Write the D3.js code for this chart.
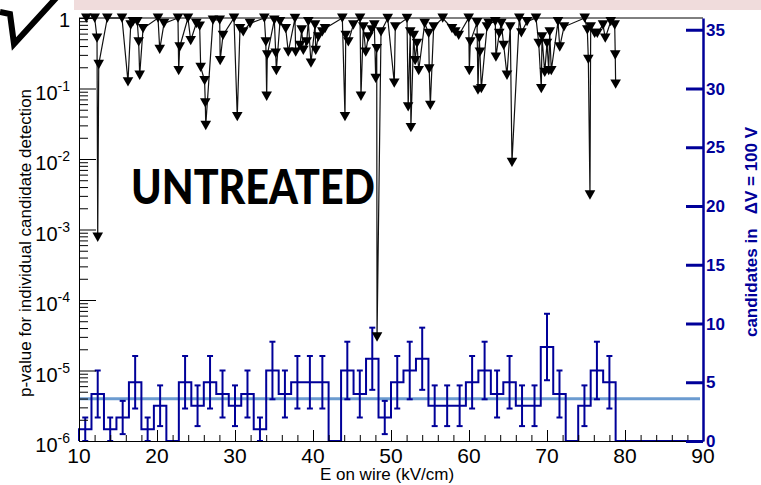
<!DOCTYPE html>
<html>
<head>
<meta charset="utf-8">
<script src="https://cdn.jsdelivr.net/npm/d3@7"></script>
<style>
  html, body { margin: 0; padding: 0; background: #fff; }
  svg { display: block; }
  text { font-family: "Liberation Sans", Arial, Helvetica, sans-serif; }
</style>
</head>
<body>
<svg id="chart" width="761" height="485"></svg>
<script>
// ---- data -------------------------------------------------------------
// candidate positions (E on wire, kV/cm) and their individual p-values
const eField = [
  10.94, 12.01, 12.31, 12.40, 12.53, 13.63, 15.51, 16.28, 16.63, 16.92,
  17.47, 17.65, 17.78, 18.21, 20.13, 20.35, 20.90, 22.69, 22.78, 22.91,
  23.97, 24.32, 25.04, 25.47, 25.60, 26.10, 26.19, 26.25, 27.18, 28.04,
  28.10, 28.46, 29.87, 30.29, 30.64, 31.06, 31.92, 33.76, 33.95, 34.06,
  34.14, 35.04, 35.22, 35.30, 35.77, 36.50, 36.83, 37.69, 37.78, 38.33,
  38.55, 38.76, 39.19, 39.40, 39.74, 40.26, 40.35, 40.68, 41.19, 41.54,
  43.76, 44.10, 44.20, 44.53, 45.17, 46.03, 46.15, 46.45, 46.76, 47.09,
  47.53, 47.86, 48.04, 48.17, 48.21, 48.72, 49.58, 50.42, 50.55, 52.05,
  52.20, 52.47, 52.55, 52.91, 53.10, 53.33, 53.55, 54.32, 54.83, 54.90,
  55.04, 55.47, 56.63, 57.82, 58.24, 58.68, 59.96, 60.04, 60.17, 61.03,
  61.15, 61.32, 61.40, 61.58, 62.31, 62.53, 63.37, 63.45, 63.88, 64.14,
  64.45, 64.87, 65.29, 65.51, 66.45, 66.71, 67.44, 68.59, 68.94, 69.27,
  69.36, 69.71, 70.00, 70.22, 70.35, 70.55, 71.41, 71.63, 72.18, 74.83,
  75.17, 75.30, 75.51, 75.60, 76.11, 76.45, 77.18, 77.47, 78.17, 78.68,
  78.75, 78.80
];
const pValue = [
  1.0, 1.0, 0.52, 7.8e-4, 0.22, 1.0, 1.0, 0.125, 0.80, 0.89,
  0.89, 0.46, 0.155, 0.71, 1.0, 0.36, 0.84, 1.0, 0.18, 0.39,
  1.0, 0.48, 0.84, 0.77, 0.20, 0.13, 0.063, 0.030, 0.94, 0.94,
  0.25, 0.57, 1.0, 0.040, 0.71, 0.64, 0.84, 1.0, 0.46, 0.078,
  0.30, 0.94, 0.32, 0.18, 0.89, 0.71, 0.33, 0.99, 0.33, 0.41,
  0.68, 0.35, 0.46, 0.89, 0.23, 0.80, 0.35, 0.54, 0.64, 0.71,
  1.0, 0.040, 0.57, 0.46, 0.80, 1.0, 0.078, 0.75, 0.33, 0.54,
  0.68, 0.80, 0.14, 0.37, 3.0e-5, 0.64, 0.99, 0.12, 0.75, 0.99,
  0.055, 0.64, 0.028, 0.57, 0.25, 0.44, 0.18, 0.84, 0.61, 0.19,
  0.058, 0.75, 1.0, 0.71, 0.64, 0.57, 1.0, 0.18, 0.46, 0.86,
  0.095, 0.52, 0.33, 0.10, 0.75, 0.84, 0.89, 0.28, 0.61, 0.84,
  0.41, 0.155, 0.75, 9.0e-3, 1.0, 0.62, 0.89, 1.0, 0.44, 0.10,
  0.54, 0.17, 0.44, 0.18, 0.64, 0.18, 0.89, 0.39, 0.75, 1.0,
  0.68, 0.26, 3.1e-3, 0.75, 0.61, 0.61, 0.80, 0.52, 0.89, 0.80,
  0.30, 0.116
];

// candidates per 100 V step (bins of 1.6 kV/cm starting at 10 kV/cm)
const binStart = 10;
const binWidth = 1.6;
const binCounts = [
  1, 4, 1, 2, 5, 1, 3, 0, 5, 3,
  5, 4, 3, 4, 1, 6, 4, 5, 5, 5,
  0, 6, 4, 7, 2, 5, 6, 7, 3, 3,
  3, 5, 6, 4, 5, 3, 3, 8, 4, 0,
  3, 6, 5, 0, 0, 0, 0, 0, 0, 0
];
const meanCount = 3.6;

// axis ticks
const xMajorTicks = [10, 20, 30, 40, 50, 60, 70, 80, 90];
const pDecades = [0, -1, -2, -3, -4, -5, -6];
const countTicks = [0, 5, 10, 15, 20, 25, 30, 35];

// ---- layout -----------------------------------------------------------
const svg = d3.select("#chart");
const L = 79, R = 703, T = 18, B = 441;
const navy = "#000099";

const x = d3.scaleLinear().domain([10, 90]).range([L, R]);
const y = d3.scaleLog().domain([1e-6, 1]).range([B, T]);
const yR = d3.scaleLinear().domain([0, 36]).range([B, T]);

// header band and corner mark
svg.append("rect").attr("x", 74).attr("y", 0).attr("width", 687).attr("height", 10)
  .attr("fill", "#f0dcdc");
svg.append("path").attr("d", "M0,12 L10,14 L14,44 L57,-3")
  .attr("fill", "none").attr("stroke", "#000").attr("stroke-width", 6)
  .attr("stroke-linejoin", "miter");

// mean count level
svg.append("line")
  .attr("x1", L).attr("x2", R - 3)
  .attr("y1", yR(meanCount)).attr("y2", yR(meanCount))
  .attr("stroke", "#6b9bd0").attr("stroke-width", 3);

// histogram outline
const bins = binCounts.map((c, i) => ({
  x0: binStart + i * binWidth,
  x1: binStart + (i + 1) * binWidth,
  c
}));
let d = `M${x(bins[0].x0)},${yR(0)}`;
bins.forEach(b => { d += `L${x(b.x0)},${yR(b.c)}L${x(b.x1)},${yR(b.c)}`; });
d += `L${x(bins[bins.length - 1].x1)},${yR(0)}`;
svg.append("path").attr("d", d).attr("fill", "none")
  .attr("stroke", navy).attr("stroke-width", 2).attr("stroke-linejoin", "miter");

// Poisson error bars
const capHalf = 3;
const eb = svg.append("g").attr("stroke", navy).attr("stroke-width", 2);
bins.filter(b => b.c > 0).forEach(b => {
  const cx = x((b.x0 + b.x1) / 2);
  const lo = yR(Math.max(0, b.c - Math.sqrt(b.c)));
  const hi = yR(b.c + Math.sqrt(b.c));
  eb.append("line").attr("x1", cx).attr("x2", cx).attr("y1", lo).attr("y2", hi);
  eb.append("line").attr("x1", cx - capHalf).attr("x2", cx + capHalf).attr("y1", lo).attr("y2", lo);
  eb.append("line").attr("x1", cx - capHalf).attr("x2", cx + capHalf).attr("y1", hi).attr("y2", hi);
});

// p-value graph
const pts = eField.map((e, i) => [e, pValue[i]]);
svg.append("path")
  .attr("d", d3.line().x(p => x(p[0])).y(p => y(p[1]))(pts))
  .attr("fill", "none").attr("stroke", "#111").attr("stroke-width", 1.2);
const tri = "M-5.3,-4.5L5.3,-4.5L0,4.8Z";
svg.append("g").selectAll("path").data(pts).join("path")
  .attr("d", tri)
  .attr("transform", p => `translate(${x(p[0])},${y(p[1])})`)
  .attr("fill", "#000");

// frame top
svg.append("line").attr("x1", L).attr("x2", R).attr("y1", T).attr("y2", T)
  .attr("stroke", "#000").attr("stroke-width", 1);

// left axis (log)
const minorP = [];
pDecades.slice(1).forEach(k => { for (let m = 2; m <= 9; m++) minorP.push(m * Math.pow(10, k)); });
const majorP = pDecades.map(k => Math.pow(10, k));
const gL = svg.append("g").attr("transform", `translate(${L},0)`);
gL.call(d3.axisLeft(y).tickValues(majorP).tickSize(-17).tickSizeOuter(0).tickFormat(""));
gL.append("g").call(d3.axisLeft(y).tickValues(minorP).tickSize(-9).tickSizeOuter(0).tickFormat(""))
  .select(".domain").remove();
gL.selectAll("line").attr("stroke", "#000");
gL.select(".domain").attr("stroke", "#000");

pDecades.forEach(k => {
  const t = svg.append("text").attr("text-anchor", "end").attr("x", 70)
    .attr("fill", "#000").style("font-size", "20px");
  if (k === 0) {
    t.attr("y", y(1) + 9).text("1");
  } else {
    t.attr("y", y(Math.pow(10, k)) + 11);
    t.append("tspan").text("10");
    t.append("tspan").attr("dy", -9).style("font-size", "14px").text(String(k));
  }
});

// bottom axis
const xMinor = d3.range(12, 90, 2).filter(v => v % 10 !== 0);
const gB = svg.append("g").attr("transform", `translate(0,${B})`);
gB.call(d3.axisBottom(x).tickValues(xMajorTicks).tickSize(-11).tickSizeOuter(0).tickFormat(""));
gB.append("g").call(d3.axisBottom(x).tickValues(xMinor).tickSize(-6).tickSizeOuter(0).tickFormat(""))
  .select(".domain").remove();
gB.selectAll("line").attr("stroke", "#000");
gB.select(".domain").attr("stroke", "#000");
xMajorTicks.forEach(v => {
  svg.append("text").attr("x", x(v)).attr("y", 463).attr("text-anchor", "middle")
    .style("font-size", "21px").attr("fill", "#000").text(v);
});
svg.append("text").attr("x", (L + R) / 2 - 4).attr("y", 480).attr("text-anchor", "middle")
  .style("font-size", "17px").attr("fill", "#000").text("E on wire (kV/cm)");

// left title
svg.append("text")
  .attr("transform", "translate(31,243) rotate(-90)")
  .attr("text-anchor", "middle").style("font-size", "17px").attr("fill", "#000")
  .text("p-value for individual candidate detection");

// right axis (counts)
const gR = svg.append("g").attr("transform", `translate(${R},0)`);
gR.call(d3.axisRight(yR).tickValues(countTicks).tickSize(-17).tickSizeOuter(0).tickFormat(""));
gR.selectAll("line").attr("stroke", navy).attr("stroke-width", 3);
gR.select(".domain").attr("stroke", navy).attr("stroke-width", 2.5);
countTicks.forEach(v => {
  svg.append("text").attr("x", 706).attr("y", yR(v) + 6)
    .style("font-size", "17px").style("font-weight", "bold").attr("fill", navy).text(v);
});
svg.append("text")
  .attr("transform", "translate(757,232) rotate(-90)")
  .attr("text-anchor", "middle").style("font-size", "17px").style("font-weight", "bold")
  .style("white-space", "pre").attr("fill", navy)
  .text("candidates in   \u0394V = 100 V");

// sample label
svg.append("text").attr("x", 131).attr("y", 204)
  .attr("textLength", 244).attr("lengthAdjust", "spacingAndGlyphs")
  .style("font-family", "Lato, 'Open Sans', sans-serif").style("font-weight", "900")
  .style("font-size", "47px").attr("fill", "#000").text("UNTREATED");
</script>
</body>
</html>
